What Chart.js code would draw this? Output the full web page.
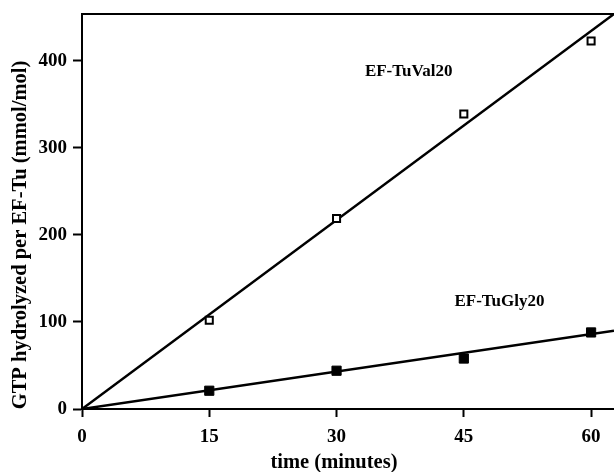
<!DOCTYPE html>
<html>
<head>
<meta charset="utf-8">
<script src="https://cdn.jsdelivr.net/npm/chart.js@4.4.1/dist/chart.umd.min.js"></script>
<style>
  html, body { margin: 0; padding: 0; background: #fff; }
  #wrap { width: 614px; height: 472px; }
</style>
</head>
<body>
<div id="wrap"><canvas id="c" width="614" height="472"></canvas></div>
<script>
// ---- data ----
const times = [15, 30, 45, 60];
const valValues = [102, 219, 339, 423];   // EF-TuVal20 (open squares)
const glyValues = [21, 44, 58, 88];       // EF-TuGly20 (filled squares)
const valFitX = [0, 62.7];
const valFitY = [0, 454];
const glyFitX = [0, 62.7];
const glyFitY = [0, 90];
const xTicks = [0, 15, 30, 45, 60];
const yTicks = [0, 100, 200, 300, 400];
const xRange = [0, 62.7];
const yRange = [0, 454];
const seriesLabels = ['EF-TuVal20', 'EF-TuGly20'];
const labelAnchors = [[38.5, 388], [49.2, 124]];
const xTitle = 'time (minutes)';
const yTitle = 'GTP hydrolyzed per EF-Tu (mmol/mol)';

const toXY = (xs, ys) => xs.map((x, i) => ({ x: x, y: ys[i] }));
const FONT = '"Liberation Serif", "DejaVu Serif", serif';

const annotPlugin = {
  id: 'annot',
  afterDraw(chart) {
    const { ctx, chartArea, scales } = chart;
    ctx.save();
    ctx.strokeStyle = '#000';
    ctx.lineWidth = 2;
    ctx.beginPath();
    ctx.moveTo(chartArea.left - 1, chartArea.top);
    ctx.lineTo(chartArea.right, chartArea.top);
    ctx.stroke();
    ctx.fillStyle = '#000';
    ctx.font = 'bold 17px ' + FONT;
    ctx.textAlign = 'center';
    ctx.textBaseline = 'middle';
    seriesLabels.forEach((t, i) => {
      const px = scales.x.getPixelForValue(labelAnchors[i][0]);
      const py = scales.y.getPixelForValue(labelAnchors[i][1]);
      ctx.fillText(t, px, py);
    });
    ctx.font = 'bold 20.5px ' + FONT;
    ctx.fillText(xTitle, 334, 463);
    ctx.translate(21, 235);
    ctx.rotate(-Math.PI / 2);
    ctx.fillText(yTitle, 0, 0);
    ctx.restore();
  }
};

new Chart(document.getElementById('c'), {
  type: 'scatter',
  data: {
    datasets: [
      {
        label: seriesLabels[0] + ' fit',
        data: toXY(valFitX, valFitY),
        showLine: true,
        borderColor: '#000',
        borderWidth: 2.5,
        pointRadius: 0,
        order: 3
      },
      {
        label: seriesLabels[1] + ' fit',
        data: toXY(glyFitX, glyFitY),
        showLine: true,
        borderColor: '#000',
        borderWidth: 2.5,
        pointRadius: 0,
        order: 3
      },
      {
        label: seriesLabels[0],
        data: toXY(times, valValues),
        pointStyle: 'rect',
        pointRadius: 5,
        pointBorderWidth: 2,
        pointBorderColor: '#000',
        pointBackgroundColor: '#fff',
        order: 1
      },
      {
        label: seriesLabels[1],
        data: toXY(times, glyValues),
        pointStyle: 'rect',
        pointRadius: 6.5,
        pointBorderWidth: 1,
        pointBorderColor: '#000',
        pointBackgroundColor: '#000',
        order: 1
      }
    ]
  },
  options: {
    responsive: false,
    animation: false,
    devicePixelRatio: 1,
    layout: { autoPadding: false, padding: { top: 14, right: 0, left: 0, bottom: 0 } },
    plugins: { legend: { display: false }, tooltip: { enabled: false } },
    scales: {
      x: {
        type: 'linear',
        min: xRange[0],
        max: xRange[1],
        afterBuildTicks: (s) => { s.ticks = xTicks.map(v => ({ value: v })); },
        afterFit: (s) => { s.height = 63; s.paddingLeft = 0; s.paddingRight = 0; },
        grid: { display: true, drawOnChartArea: false, drawTicks: true, tickLength: 8, tickWidth: 2, tickColor: '#000' },
        border: { display: true, color: '#000', width: 2 },
        ticks: {
          color: '#000',
          padding: 9,
          maxRotation: 0,
          autoSkip: false,
          font: { family: FONT, size: 19, weight: 'bold' }
        }
      },
      y: {
        type: 'linear',
        min: yRange[0],
        max: yRange[1],
        afterBuildTicks: (s) => { s.ticks = yTicks.map(v => ({ value: v })); },
        afterFit: (s) => { s.width = 82; s.paddingTop = 0; s.paddingBottom = 0; },
        grid: { display: true, drawOnChartArea: false, drawTicks: true, tickLength: 9, tickWidth: 2, tickColor: '#000' },
        border: { display: true, color: '#000', width: 2 },
        ticks: {
          color: '#000',
          padding: 6,
          autoSkip: false,
          font: { family: FONT, size: 19, weight: 'bold' }
        }
      }
    }
  },
  plugins: [annotPlugin]
});
</script>
</body>
</html>
